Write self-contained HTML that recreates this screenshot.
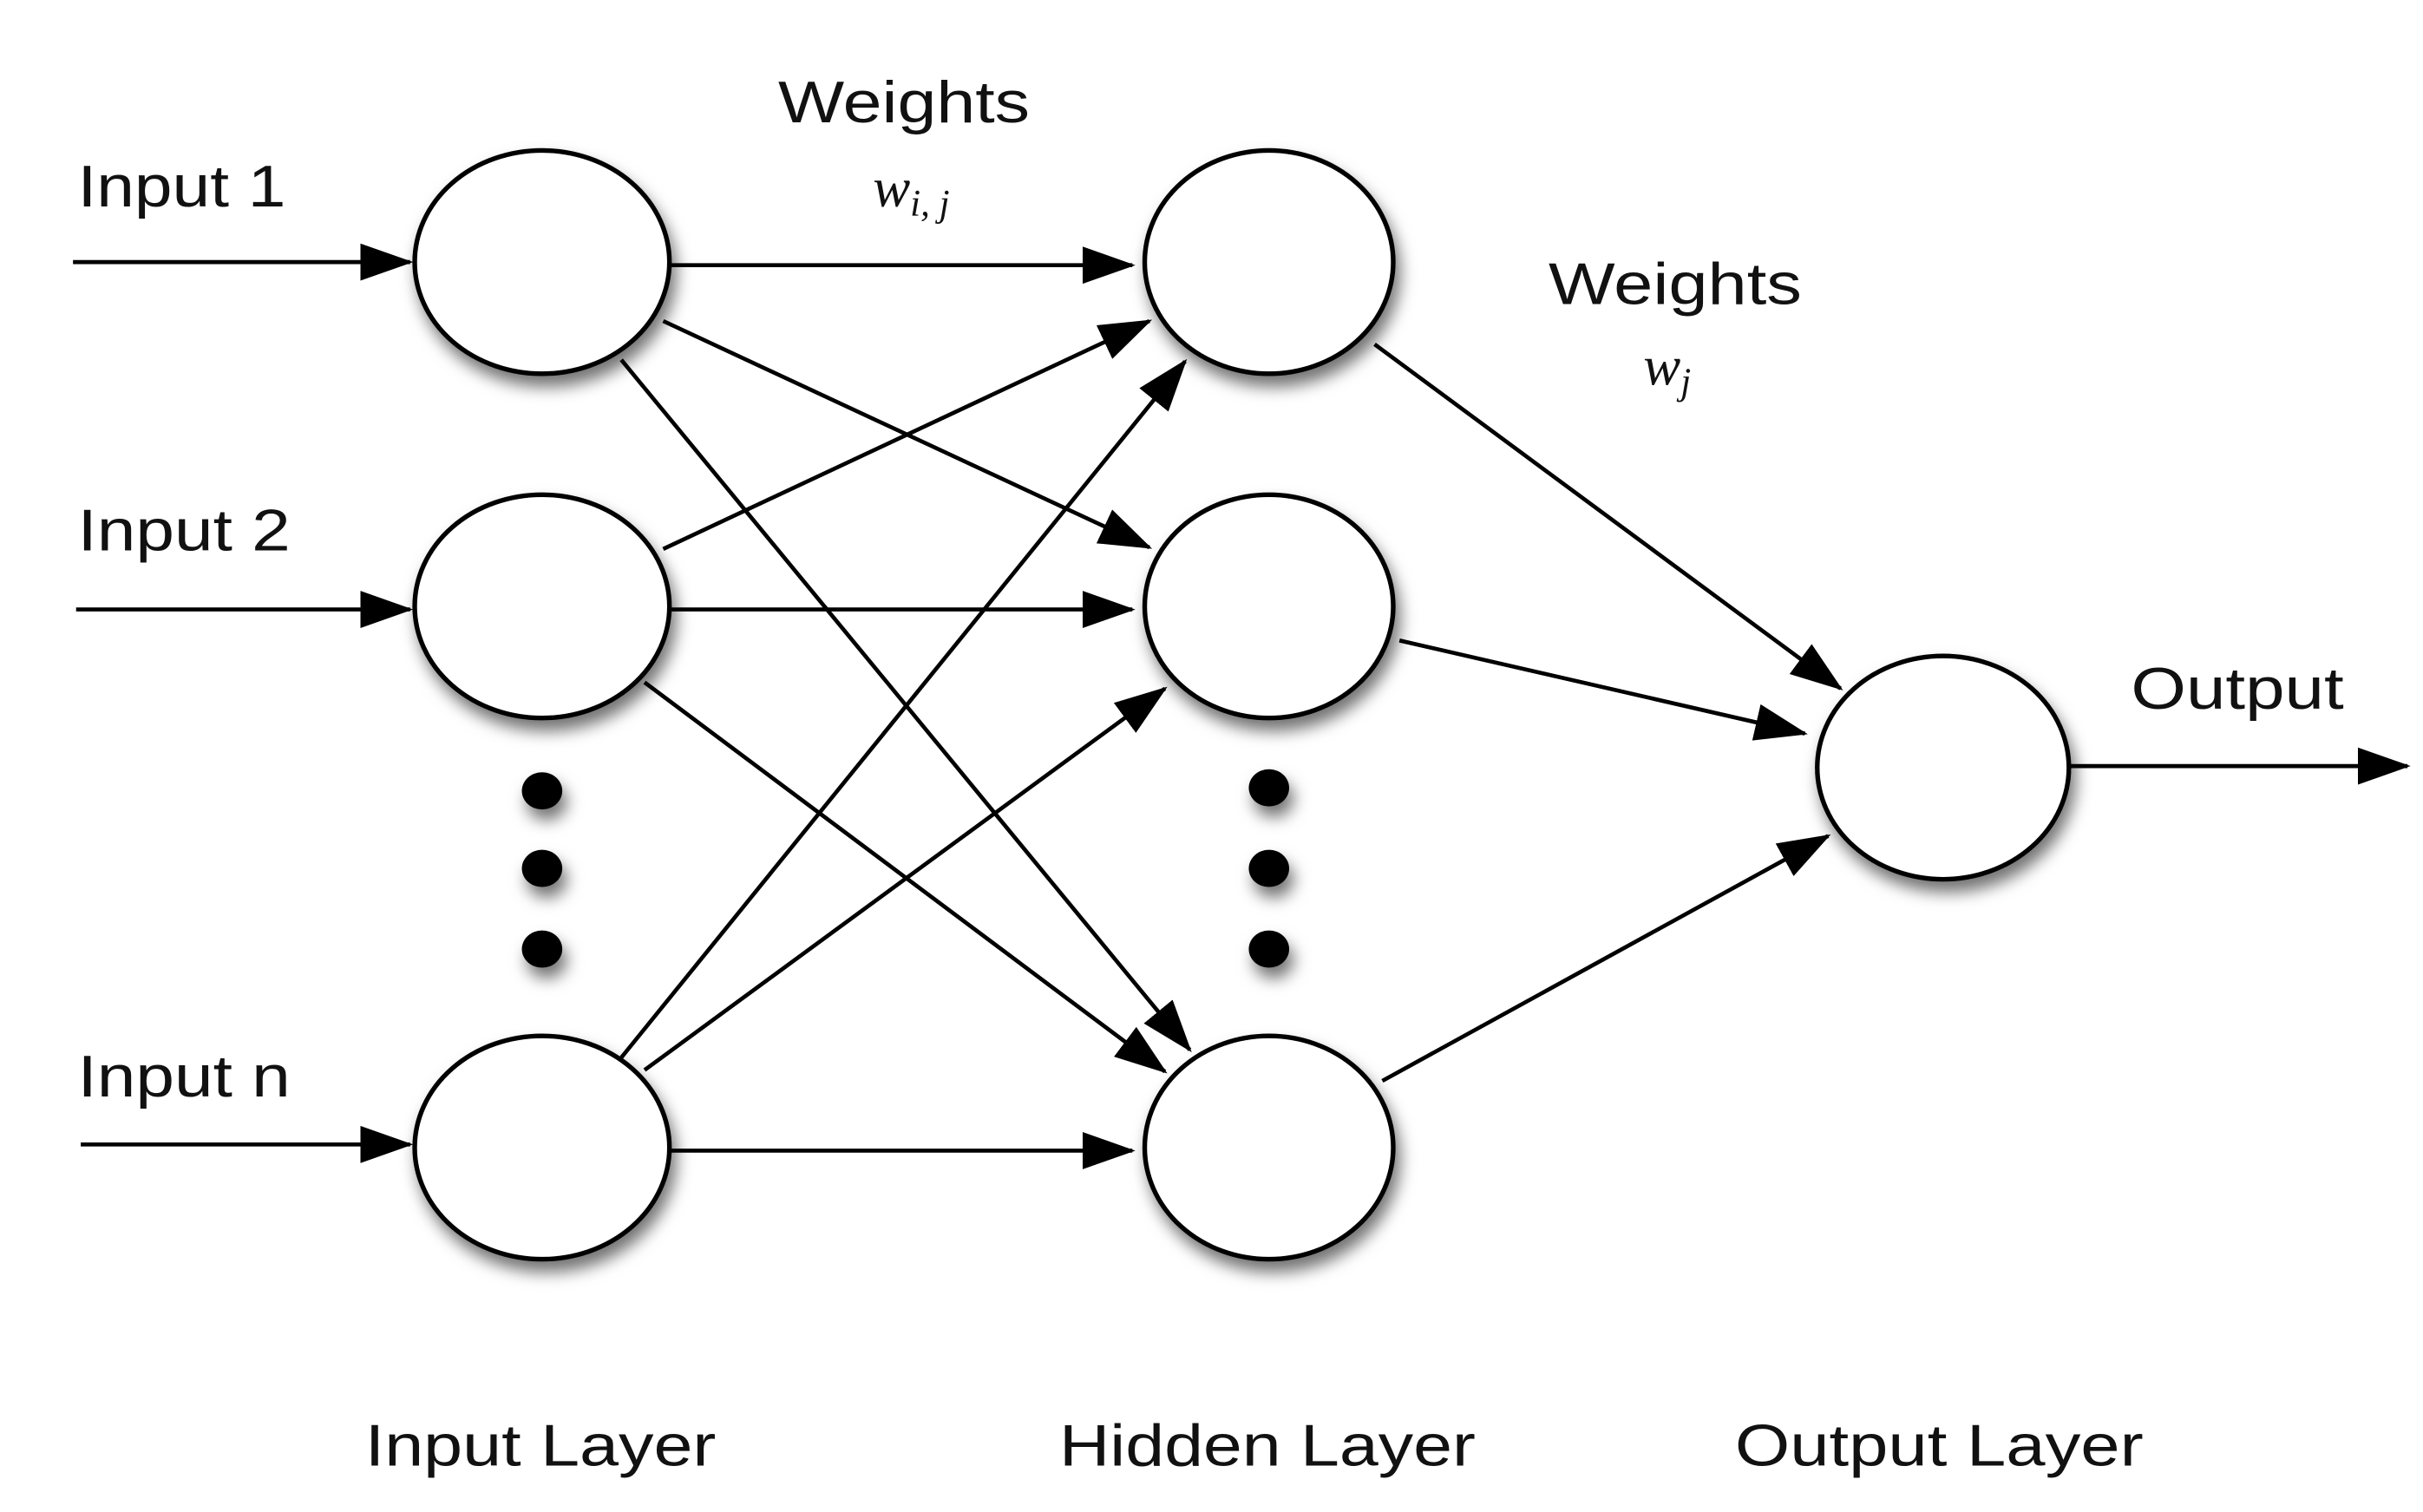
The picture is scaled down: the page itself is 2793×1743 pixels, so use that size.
<!DOCTYPE html>
<html><head><meta charset="utf-8"><style>
html,body{margin:0;padding:0;background:#fff;}
svg{display:block;}
text{font-family:"Liberation Sans",Arial,sans-serif;fill:#111;}
</style></head><body>
<svg width="2793" height="1743" viewBox="0 0 1560 975" preserveAspectRatio="none" xmlns="http://www.w3.org/2000/svg">
<defs>
<marker id="a" markerUnits="userSpaceOnUse" markerWidth="34" markerHeight="26" refX="32" refY="12" orient="auto">
<path d="M0,0 L34,12 L0,24 z" fill="#000"/>
</marker>
<filter id="sh" x="-30%" y="-30%" width="160%" height="170%">
<feDropShadow dx="3" dy="7" stdDeviation="5" flood-color="#000" flood-opacity="0.55"/>
</filter>
</defs>
<g stroke="#000" stroke-width="2.6" fill="none" marker-end="url(#a)">
<line x1="47" y1="169" x2="264" y2="169"/>
<line x1="49" y1="393" x2="264" y2="393"/>
<line x1="52" y1="738" x2="264" y2="738"/>
<line x1="431" y1="171" x2="729" y2="171"/>
<line x1="431" y1="393" x2="729" y2="393"/>
<line x1="431" y1="742" x2="729" y2="742"/>
<line x1="427" y1="207" x2="740" y2="353"/>
<line x1="400" y1="232" x2="766" y2="677"/>
<line x1="427" y1="354" x2="740" y2="207"/>
<line x1="415" y1="440" x2="750" y2="691"/>
<line x1="400" y1="682" x2="763" y2="233"/>
<line x1="415" y1="690" x2="750" y2="444"/>
<line x1="885" y1="222" x2="1185" y2="444"/>
<line x1="901" y1="413" x2="1162" y2="473"/>
<line x1="890" y1="697" x2="1177" y2="539"/>
<line x1="1333" y1="494" x2="1550" y2="494"/>
</g>
<g fill="#fff" stroke="#000" stroke-width="3" filter="url(#sh)">
<ellipse cx="349" cy="169" rx="82" ry="72"/>
<ellipse cx="349" cy="391" rx="82" ry="72"/>
<ellipse cx="349" cy="740" rx="82" ry="72"/>
<ellipse cx="817" cy="169" rx="80" ry="72"/>
<ellipse cx="817" cy="391" rx="80" ry="72"/>
<ellipse cx="817" cy="740" rx="80" ry="72"/>
<ellipse cx="1251" cy="495" rx="81" ry="72"/>
</g>
<g fill="#000" filter="url(#sh)">
<ellipse cx="349" cy="510" rx="13" ry="12"/>
<ellipse cx="349" cy="560" rx="13" ry="12"/>
<ellipse cx="349" cy="612" rx="13" ry="12"/>
<ellipse cx="817" cy="508" rx="13" ry="12"/>
<ellipse cx="817" cy="560" rx="13" ry="12"/>
<ellipse cx="817" cy="612" rx="13" ry="12"/>
</g>
<g font-size="38">
<text x="50" y="133" textLength="134" lengthAdjust="spacingAndGlyphs">Input 1</text>
<text x="50" y="355" textLength="137" lengthAdjust="spacingAndGlyphs">Input 2</text>
<text x="50" y="707" textLength="137" lengthAdjust="spacingAndGlyphs">Input n</text>
<text x="501" y="79" textLength="162" lengthAdjust="spacingAndGlyphs">Weights</text>
<text x="997" y="196" textLength="163" lengthAdjust="spacingAndGlyphs">Weights</text>
<text x="1372" y="457" textLength="137" lengthAdjust="spacingAndGlyphs">Output</text>
<text x="235" y="945" textLength="226" lengthAdjust="spacingAndGlyphs">Input Layer</text>
<text x="682" y="945" textLength="268" lengthAdjust="spacingAndGlyphs">Hidden Layer</text>
<text x="1117" y="945" textLength="263" lengthAdjust="spacingAndGlyphs">Output Layer</text>
</g>
<g font-family="Liberation Serif,serif" font-style="italic">
<text x="562" y="133" font-size="36" style="font-family:'Liberation Serif',serif">w<tspan font-size="24" dy="6">i, j</tspan></text>
<text x="1058" y="248" font-size="36" style="font-family:'Liberation Serif',serif">w<tspan font-size="24" dy="6">j</tspan></text>
</g>
</svg>
</body></html>
